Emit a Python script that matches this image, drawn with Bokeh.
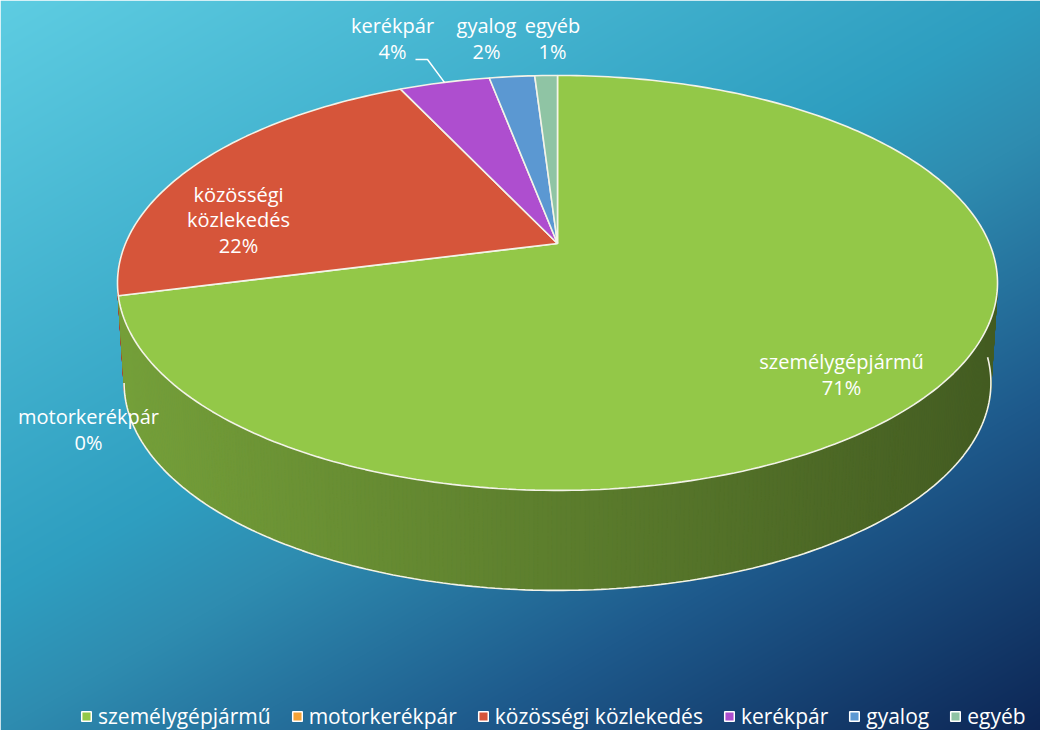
import math
import numpy as np
from bokeh.plotting import figure
from bokeh.models import Range1d, Legend, LegendItem
from bokeh.core.properties import value
from bokeh.embed import file_html
from bokeh.resources import INLINE

# ---------------- data ----------------
categories = ["személygépjármű", "motorkerékpár", "közösségi közlekedés",
              "kerékpár", "gyalog", "egyéb"]
label_lines = [["személygépjármű"], ["motorkerékpár"], ["közösségi", "közlekedés"],
               ["kerékpár"], ["gyalog"], ["egyéb"]]
shares = [71, 0, 22, 4, 2, 1]

# ---------------- style / layout ----------------
colors = ["#93c848", "#f4a236", "#d6553a", "#ae4ecf", "#5b98d2", "#8fc4a4"]
W, H = 1040, 730
CX, CY = 557.0, 243.0      # projected centre of top face
A, S, K = 432.0, 200.0, 0.19   # x radius, y radius, perspective factor
DEPTH = 100.0
SHRINK = 0.985
EDGE = "#f3f3e8"
FONT = "Open Sans"
STEP = 25.5

# label block centres (px)
label_pos = [(841, 374), (88, 429), (238, 219), (392, 38), (486, 38), (552, 38)]
leader_elbow = [(415, 59), (427, 59)]


def proj(phi, r=1.0, depth=0.0, shrink=1.0):
    c, s = math.cos(phi), math.sin(phi)
    den = 1.0 + K * r * c
    return CX + A * shrink * r * s / den, CY - S * r * c / den + depth


def hex_rgb(h):
    h = h.lstrip("#")
    return tuple(int(h[i:i + 2], 16) for i in (0, 2, 4))


p = figure(width=W, height=H, x_range=Range1d(0, W), y_range=Range1d(H, 0),
           output_backend="svg", toolbar_location=None, min_border=0)
p.axis.visible = False
p.grid.visible = False
p.outline_line_color = None

# ---------------- background gradient ----------------
stops_t = [0.0, 0.45, 0.55, 0.75, 1.0]
stops_c = np.array([(94, 205, 226), (46, 158, 192), (46, 140, 176),
                    (30, 90, 140), (13, 38, 85)], dtype=float)
yy, xx = np.mgrid[0:H, 0:W]
t = 0.45 * xx / float(W) + 0.55 * yy / float(H)
img = np.empty((H, W), dtype=np.uint32)
view = img.view(dtype=np.uint8).reshape((H, W, 4))
for ch in range(3):
    view[:, :, ch] = np.interp(t, stops_t, stops_c[:, ch]).astype(np.uint8)
view[:, :, 3] = 255
p.image_rgba(image=[img], x=0, y=0, dw=W, dh=H)

# ---------------- geometry from data ----------------
total = float(sum(shares))
bounds = []
acc = 0.0
for v in shares:
    a0 = acc / total * 2 * math.pi
    acc += v
    a1 = acc / total * 2 * math.pi
    bounds.append((a0, a1))

# side segments (far to near)
segs = []
for (a0, a1), col, v in zip(bounds, colors, shares):
    if v <= 0:
        continue
    n = max(2, int(math.degrees(a1 - a0) / 0.5))
    ph = np.linspace(a0, a1, n + 1)
    base = hex_rgb(col)
    for i in range(n):
        p0, p1 = ph[i], ph[i + 1]
        pm = 0.5 * (p0 + p1)
        if math.cos(pm) > 0.05:
            continue
        x0, y0 = proj(p0)
        x1, y1 = proj(p1)
        x2, y2 = proj(p1, depth=DEPTH, shrink=SHRINK)
        x3, y3 = proj(p0, depth=DEPTH, shrink=SHRINK)
        xm = 0.5 * (x0 + x1)
        f = 0.8 - (xm - 118) / 880.0 * 0.34
        f = min(0.85, max(0.42, f))
        c = "#%02x%02x%02x" % tuple(int(min(255, ch * f)) for ch in base)
        segs.append((math.cos(pm), [x0, x1, x2, x3], [y0, y1, y2, y3], c))
segs.sort(key=lambda s: -s[0])
p.patches(xs=[s[1] for s in segs], ys=[s[2] for s in segs],
          fill_color=[s[3] for s in segs], line_color=[s[3] for s in segs],
          line_width=1)

# bottom edge line of side
phr = math.acos(-K)
ph = np.linspace(phr * 0.93, 2 * math.pi - phr, 200)
bx, by = zip(*[proj(q, depth=DEPTH, shrink=SHRINK) for q in ph])
p.line(list(bx), list(by), line_color=EDGE, line_width=1.6)

# top faces
txs, tys, tcs = [], [], []
for (a0, a1), col, v in zip(bounds, colors, shares):
    if v <= 0:
        continue
    n = max(2, int(math.degrees(a1 - a0)))
    ph = np.linspace(a0, a1, n + 1)
    pts = [proj(q) for q in ph]
    txs.append([CX] + [q[0] for q in pts])
    tys.append([CY] + [q[1] for q in pts])
    tcs.append(col)
p.patches(xs=txs, ys=tys, fill_color=tcs, line_color=EDGE, line_width=1.6)

# leader line for kerékpár
i_k = 3
mid = 0.5 * (bounds[i_k][0] + bounds[i_k][1])
ex, ey = proj(mid)
p.line([leader_elbow[0][0], leader_elbow[1][0], ex],
       [leader_elbow[0][1], leader_elbow[1][1], ey],
       line_color="white", line_width=1.5)

# data labels, one text per line
lx, ly, lt = [], [], []
for lines, v, (xc, yc) in zip(label_lines, shares, label_pos):
    rows = lines + ["%d%%" % v]
    n = len(rows)
    for i, row in enumerate(rows):
        lx.append(xc)
        ly.append(yc + (i - (n - 1) / 2.0) * STEP)
        lt.append(row)
p.text(x=lx, y=ly, text=lt, text_align="center", text_baseline="middle",
       text_color="white", text_font=value(FONT), text_font_size="20px")

# legend (dummy renderers, never drawn: NaN coordinates)
items = []
for name, col in zip(categories, colors):
    r = p.quad(left=[np.nan], right=[np.nan], top=[np.nan], bottom=[np.nan],
               fill_color=col, line_color="white", line_width=1.5)
    items.append(LegendItem(label=name, renderers=[r]))
legend = Legend(items=items, orientation="horizontal", location=(80, 0),
                padding=0, margin=0, spacing=20, label_standoff=6,
                glyph_width=12, glyph_height=12, label_height=20,
                label_text_font=FONT, label_text_font_size="21px",
                label_text_color="white", background_fill_alpha=0,
                border_line_alpha=0)
p.add_layout(legend)

open("out.html", "w").write(file_html(p, INLINE))
